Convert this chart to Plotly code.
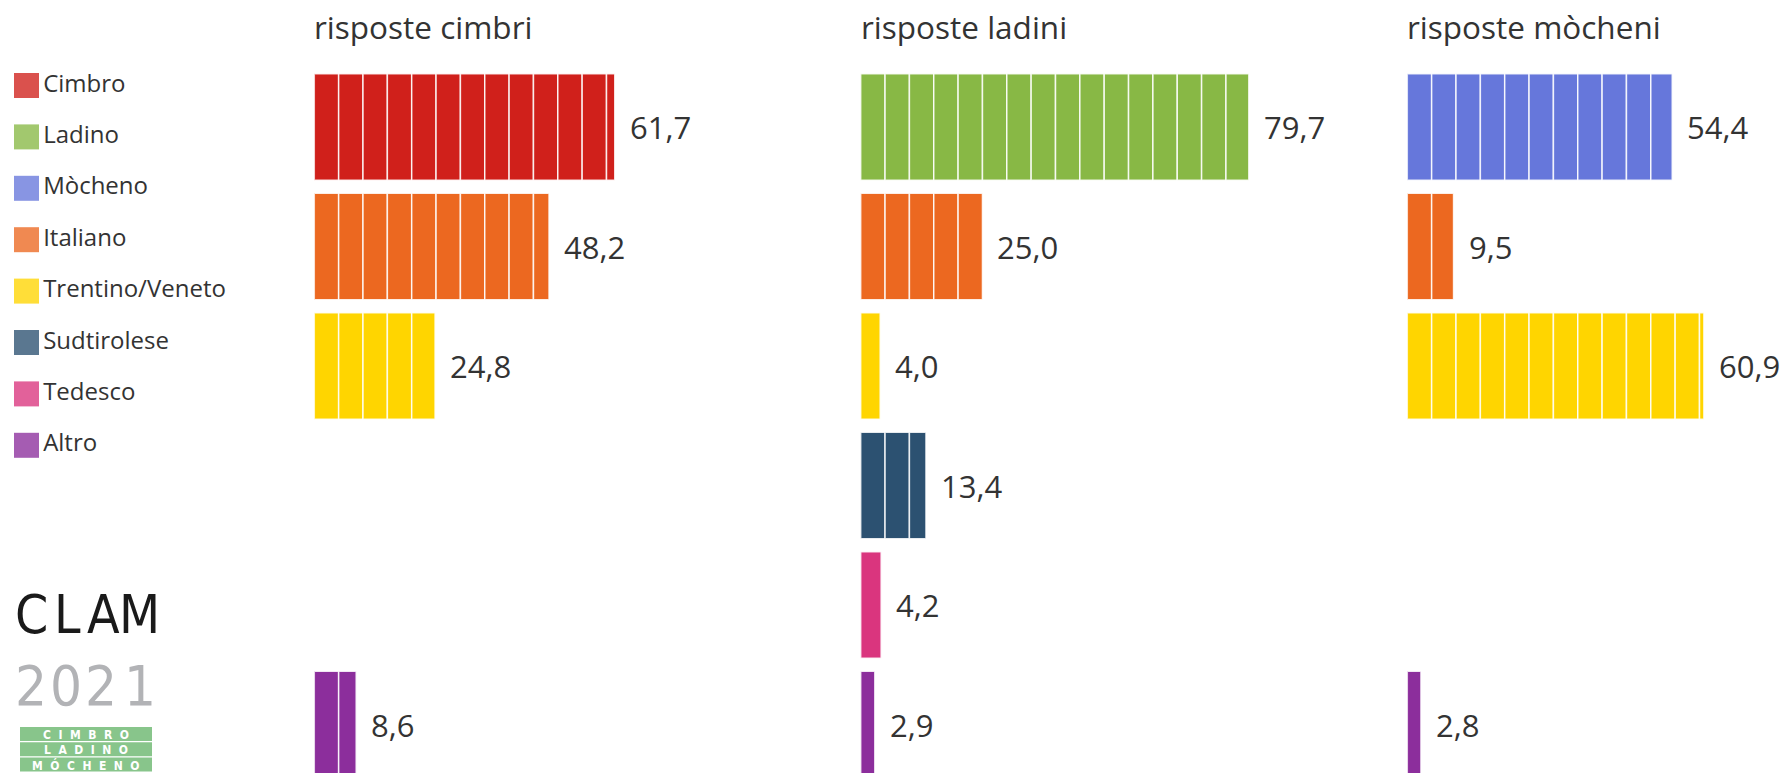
import math
import plotly.graph_objects as go

# ---------------- data ----------------
row_labels = ["Lingua minoritaria", "Italiano", "Trentino/Veneto", "Sudtirolese", "Tedesco", "Altro"]
panel_titles = ["risposte cimbri", "risposte ladini", "risposte mòcheni"]
cimbri = [61.7, 48.2, 24.8, None, None, 8.6]
ladini = [79.7, 25.0, 4.0, 13.4, 4.2, 2.9]
mocheni = [54.4, 9.5, 60.9, None, None, 2.8]
legend_labels = ["Cimbro", "Ladino", "Mòcheno", "Italiano", "Trentino/Veneto", "Sudtirolese", "Tedesco", "Altro"]
segment_size = 5  # each block = 5 %

# ---------------- style ----------------
W, H = 1785, 773
FONT = "Open Sans, Roboto, sans-serif"
TXT = "#333333"
first_row_colors = ["#D0201B", "#88B845", "#6677DB"]
row_colors = [None, "#EC6820", "#FFD500", "#2C5171", "#DA357E", "#8C2E9C"]
legend_colors = ["#D0201B", "#88B845", "#6677DB", "#EC6820", "#FFD500", "#2C5171", "#DA357E", "#8C2E9C"]

px_per_unit = 4.87
col_left = [314.3, 860.7, 1407.3]
row0_center, row_pitch = 127.0, 119.5
bar_h = 106.7 / row_pitch

panels = [cimbri, ladini, mocheni]
xaxis_ids = ["x", "x2", "x3"]

fig = go.Figure()
annotations = []

for c, vals in enumerate(panels):
    for r, v in enumerate(vals):
        if v is None:
            continue
        n = math.ceil(v / segment_size - 1e-9)
        lengths = [min(segment_size, v - segment_size * k) for k in range(n)]
        bases = [segment_size * k for k in range(n)]
        color = first_row_colors[c] if r == 0 else row_colors[r]
        fig.add_trace(go.Bar(
            x=lengths, y=[r] * n, base=bases, orientation="h", width=bar_h,
            marker=dict(color=color, line=dict(color="rgba(255,255,255,0.85)", width=1.5)),
            xaxis=xaxis_ids[c], yaxis="y", hoverinfo="skip", showlegend=False,
        ))
        annotations.append(dict(
            x=v, y=r, xref=xaxis_ids[c], yref="y", xanchor="left", yanchor="middle",
            xshift=13, text=f"{v:.1f}".replace(".", ","), showarrow=False,
            font=dict(family=FONT, size=31, color=TXT),
        ))
    annotations.append(dict(
        x=0, y=1 - 26 / H, xref=f"{xaxis_ids[c]} domain", yref="paper",
        xanchor="left", yanchor="middle", text=panel_titles[c], showarrow=False,
        xshift=-2,
        font=dict(family=FONT, size=31.5, color=TXT),
    ))

# custom legend (square swatches + labels)
leg_idx = list(range(len(legend_labels)))
fig.add_trace(go.Scatter(
    x=[0] * len(legend_labels), y=leg_idx, mode="markers+text",
    text=legend_labels, textposition="middle right",
    textfont=dict(family=FONT, size=24, color=TXT),
    marker=dict(symbol="square", size=25, color=legend_colors, opacity=0.78,
                line=dict(width=0)),
    xaxis="x4", yaxis="y4", hoverinfo="skip", showlegend=False,
))

layout_axes = {}
for c in range(3):
    right = min(col_left[c] + 487.0, W)
    key = "xaxis" if c == 0 else f"xaxis{c + 1}"
    layout_axes[key] = dict(
        domain=[col_left[c] / W, right / W],
        range=[0, (right - col_left[c]) / px_per_unit],
        visible=False, fixedrange=True, anchor="y",
    )

y_top = -row0_center / row_pitch
y_bot = y_top + H / row_pitch
layout_axes["yaxis"] = dict(domain=[0, 1], range=[y_bot, y_top], visible=False, fixedrange=True)

leg_pitch, leg_first = 51.4, 85.5
leg_dom_px = 300.0
layout_axes["xaxis4"] = dict(domain=[0, leg_dom_px / W], range=[-26.5, leg_dom_px - 26.5],
                             visible=False, fixedrange=True, anchor="y4")
ly_top = -leg_first / leg_pitch
layout_axes["yaxis4"] = dict(domain=[0, 1], range=[ly_top + H / leg_pitch, ly_top],
                             visible=False, fixedrange=True, anchor="x4")

# ---- logo (CLAM 2021) ----
def px(xp, yp):
    return xp / W, 1 - yp / H

LOGO_FONT = "Liberation Sans Narrow, DejaVu Sans Condensed, sans-serif"
for ch, xc in zip("CLAM", [31, 67, 103, 139]):
    xx, yy = px(xc, 614)
    annotations.append(dict(x=xx, y=yy, xref="paper", yref="paper", text=ch, showarrow=False,
                            xanchor="center", yanchor="middle",
                            font=dict(family=LOGO_FONT, size=53, color="#1a1a1a")))
for ch, xc in zip("2021", [31, 66, 101, 140]):
    xx, yy = px(xc, 685)
    annotations.append(dict(x=xx, y=yy, xref="paper", yref="paper", text=ch, showarrow=False,
                            xanchor="center", yanchor="middle",
                            font=dict(family=LOGO_FONT, size=56, color="#B2B3B6")))
shapes = []
NB = "&nbsp;&nbsp;"
for i, word in enumerate(["CIMBRO", "LADINO", "MÓCHENO"]):
    y0p = 727 + 15.3 * i
    x0, y0 = px(20, y0p)
    x1, y1 = px(152, y0p + 14)
    shapes.append(dict(type="rect", xref="paper", yref="paper", x0=x0, x1=x1, y0=y1, y1=y0,
                       fillcolor="#88C58B", line=dict(width=0), layer="below"))
    xx, yy = px(86, y0p + 7.5)
    annotations.append(dict(x=xx, y=yy, xref="paper", yref="paper",
                            text="<b>" + NB.join(list(word)) + "</b>",
                            showarrow=False, xanchor="center", yanchor="middle",
                            font=dict(family="DejaVu Sans Condensed, sans-serif", size=12, color="white")))

fig.update_layout(
    width=W, height=H, margin=dict(l=0, r=0, t=0, b=0),
    paper_bgcolor="white", plot_bgcolor="rgba(0,0,0,0)",
    barmode="overlay", showlegend=False,
    annotations=annotations, shapes=shapes,
    **layout_axes,
)

fig.write_html("out.html", config={"displayModeBar": False})
